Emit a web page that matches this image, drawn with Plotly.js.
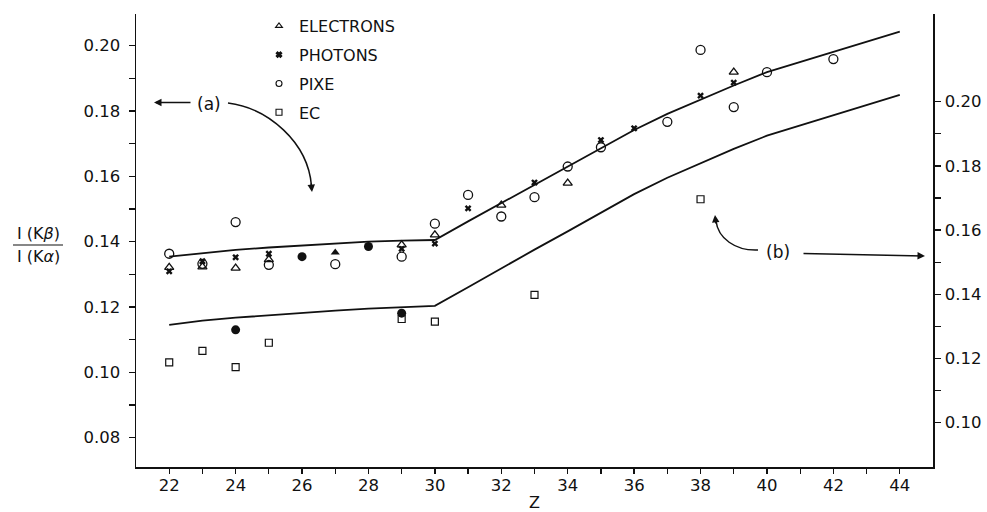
<!DOCTYPE html>
<html>
<head>
<meta charset="utf-8">
<script src="https://cdn.plot.ly/plotly-3.0.1.min.js"></script>
<style>html,body{margin:0;padding:0;background:#fff;}#chart{width:987px;height:512px;}</style>
</head>
<body>
<div id="chart"></div>
<script>
// ---- Data (Z = atomic number) ----
// Curve (a), left scale
const curveAZ = [22,23,24,25,26,27,28,29,30,31,32,33,34,35,36,37,38,39,40,41,42,43,44];
const curveAVal = [0.1354,0.1365,0.1375,0.1382,0.1388,0.1394,0.1400,0.1403,0.1405,0.1462,0.1518,0.1575,0.1630,0.1687,0.1742,0.1791,0.1835,0.1878,0.1919,0.1950,0.1982,0.2012,0.2043];
// Curve (b), right scale
const curveBZ = [22,23,24,25,26,27,28,29,30,31,32,33,34,35,36,37,38,39,40,41,42,43,44];
const curveBVal = [0.1305,0.1318,0.1327,0.1335,0.1342,0.1349,0.1355,0.1359,0.1364,0.1422,0.1481,0.1539,0.1596,0.1655,0.1712,0.1763,0.1809,0.1853,0.1894,0.1926,0.1959,0.1989,0.2021];

const electronsZ = [22,23,24,25,29,30,32,34,39];
const electronsVal = [0.1321,0.1323,0.1319,0.1345,0.1390,0.1421,0.1512,0.1579,0.1919];

const photonsZ = [22,23,24,25,29,30,31,33,35,36,38,39];
const photonsVal = [0.1309,0.1340,0.1352,0.1363,0.1378,0.1394,0.1502,0.1581,0.1711,0.1747,0.1847,0.1887];

const pixeZ = [22,23,24,25,27,29,30,31,32,33,34,35,37,38,39,40,42];
const pixeVal = [0.1363,0.1332,0.1460,0.1329,0.1331,0.1354,0.1455,0.1543,0.1477,0.1536,0.1630,0.1689,0.1767,0.1987,0.1812,0.1919,0.1959];

// EC, right scale
const ecZ = [22,23,24,25,29,30,33,38];
const ecVal = [0.1188,0.1224,0.1173,0.1249,0.1323,0.1315,0.1398,0.1696];

// Coincident (filled) points, left scale
const filledCircleZ = [24,26,28,29];
const filledCircleVal = [0.1130,0.1354,0.1385,0.1181];
const filledTriangleZ = [27];
const filledTriangleVal = [0.1367];

const seriesNames = ['ELECTRONS','PHOTONS','PIXE','EC'];
const xTickVals = [22,24,26,28,30,32,34,36,38,40,42,44];
const xMinorVals = [23,25,27,29,31,33,35,37,39,41,43];
const yLeftTicks = [0.08,0.10,0.12,0.14,0.16,0.18,0.20];
const yLeftMinor = [0.09,0.11,0.13,0.15,0.17,0.19];
const yRightTicks = [0.10,0.12,0.14,0.16,0.18,0.20];
const yRightMinor = [0.11,0.13,0.15,0.17,0.19];

// ---- Plot ----
const INK = '#111';
const FONT = 'DejaVu Sans, Liberation Sans, sans-serif';
const L = 136, R = 933, T = 14, B = 467;           // plot area in pixels
const px = v => (v - L) / (R - L);                   // pixel -> paper x
const py = v => (B - v) / (B - T);                   // pixel -> paper y

const traces = [
  {x: curveAZ, y: curveAVal, mode: 'lines', line: {color: INK, width: 1.8}, showlegend: false, hoverinfo: 'skip'},
  {x: curveBZ, y: curveBVal, yaxis: 'y2', mode: 'lines', line: {color: INK, width: 1.8}, showlegend: false, hoverinfo: 'skip'},
  {x: electronsZ, y: electronsVal, mode: 'markers', showlegend: false,
   marker: {symbol: 'triangle-up-open', size: 8, color: INK, line: {width: 1.3, color: INK}}},
  {x: photonsZ, y: photonsVal, mode: 'markers', showlegend: false,
   marker: {symbol: 'x', size: 6, color: INK, line: {width: 0}}},
  {x: pixeZ, y: pixeVal, mode: 'markers', showlegend: false,
   marker: {symbol: 'circle-open', size: 9, color: INK, line: {width: 1.3, color: INK}}},
  {x: ecZ, y: ecVal, yaxis: 'y2', mode: 'markers', showlegend: false,
   marker: {symbol: 'square-open', size: 7, color: INK, line: {width: 1.2, color: INK}}},
  {x: filledCircleZ, y: filledCircleVal, mode: 'markers', showlegend: false,
   marker: {symbol: 'circle', size: 9, color: INK}},
  {x: filledTriangleZ, y: filledTriangleVal, mode: 'markers', showlegend: false,
   marker: {symbol: 'triangle-up', size: 8, color: INK}},
];
// legend-only entries (small key symbols, as in the original)
const legendSymbols = ['triangle-up-open','x','circle-open','square-open'];
const legendSizes = [6,5,6,6];
seriesNames.forEach((n, i) => {
  traces.push({x: [null], y: [null], mode: 'markers', name: n, legendgroup: 'g' + i,
    marker: {symbol: legendSymbols[i], size: legendSizes[i], color: INK, line: {width: 1.1, color: INK}}});
});

const shapes = [
  // fraction bar of the y-axis title
  {type: 'line', xref: 'paper', yref: 'paper', x0: px(13), x1: px(63), y0: py(245), y1: py(245),
   line: {color: INK, width: 1.2}},
  // curved arrow body from (a)
  {type: 'path', xref: 'paper', yref: 'paper',
   path: `M ${px(228)},${py(103)} C ${px(268)},${py(108)} ${px(308)},${py(142)} ${px(311.5)},${py(186)}`,
   line: {color: INK, width: 1.5}},
  // curved arrow body from (b)
  {type: 'path', xref: 'paper', yref: 'paper',
   path: `M ${px(758)},${py(250)} C ${px(735)},${py(251)} ${px(718)},${py(238)} ${px(716)},${py(221)}`,
   line: {color: INK, width: 1.5}},
];

const txt = (x, y, text, size) => ({xref: 'paper', yref: 'paper', x: px(x), y: py(y), text: text,
  showarrow: false, xanchor: 'center', yanchor: 'middle', font: {family: FONT, size: size, color: INK}});
const annotations = [
  txt(38, 233.5, 'I (K<i>β</i>)', 16),
  txt(38, 256, 'I (K<i>α</i>)', 16),
  txt(209, 104, '(a)', 17),
  txt(778, 252, '(b)', 17),
  txt(534.5, 502, 'Z', 16),
  // straight arrows
  {xref: 'paper', yref: 'paper', x: px(154), y: py(102.5), ax: 38, ay: 0, text: '', showarrow: true,
   arrowhead: 2, arrowsize: 1, arrowwidth: 1.5, arrowcolor: INK},
  {xref: 'paper', yref: 'paper', x: px(925), y: py(256), ax: -123, ay: -2.5, text: '', showarrow: true,
   arrowhead: 2, arrowsize: 1, arrowwidth: 1.5, arrowcolor: INK},
  // heads of the curved arrows
  {xref: 'paper', yref: 'paper', x: px(312), y: py(192), ax: -1, ay: -10, text: '', showarrow: true,
   arrowhead: 2, arrowsize: 1, arrowwidth: 1.5, arrowcolor: INK},
  {xref: 'paper', yref: 'paper', x: px(715), y: py(215), ax: 1, ay: 10, text: '', showarrow: true,
   arrowhead: 2, arrowsize: 1, arrowwidth: 1.5, arrowcolor: INK},
];

const tickFont = {family: FONT, size: 16.5, color: INK};
const layout = {
  width: 987, height: 512,
  margin: {l: L, r: 987 - R, t: T, b: 512 - B, pad: 0, autoexpand: false},
  paper_bgcolor: '#fff', plot_bgcolor: '#fff',
  showlegend: true,
  legend: {x: px(259), y: py(9), xanchor: 'left', yanchor: 'top', traceorder: 'grouped',
    tracegroupgap: 5, font: {family: FONT, size: 16, color: INK}, bgcolor: 'rgba(0,0,0,0)', borderwidth: 0},
  xaxis: {range: [21, 45], showgrid: false, zeroline: false, showline: true, linecolor: INK, linewidth: 1.5,
    tickmode: 'array', tickvals: xTickVals, ticks: 'outside', ticklen: 5, tickwidth: 1.3, tickcolor: INK,
    minor: {tickmode: 'array', tickvals: xMinorVals, ticks: 'outside', ticklen: 5, tickwidth: 1.3, tickcolor: INK, showgrid: false},
    tickfont: tickFont, ticklabelstandoff: -2},
  yaxis: {range: [0.0710, 0.2097], showgrid: false, zeroline: false, showline: true, linecolor: INK, linewidth: 1.5,
    tickmode: 'array', tickvals: yLeftTicks, tickformat: '.2f', ticks: 'outside', ticklen: 6, tickwidth: 1.3, tickcolor: INK,
    minor: {tickmode: 'array', tickvals: yLeftMinor, ticks: 'outside', ticklen: 6, tickwidth: 1.3, tickcolor: INK, showgrid: false},
    tickfont: tickFont, ticklabelstandoff: 5},
  yaxis2: {range: [0.0862, 0.2273], overlaying: 'y', side: 'right', anchor: 'x', showgrid: false, zeroline: false,
    showline: true, linecolor: INK, linewidth: 1.5,
    tickmode: 'array', tickvals: yRightTicks, tickformat: '.2f', ticks: 'outside', ticklen: 6, tickwidth: 1.3, tickcolor: INK,
    minor: {tickmode: 'array', tickvals: yRightMinor, ticks: 'outside', ticklen: 6, tickwidth: 1.3, tickcolor: INK, showgrid: false},
    tickfont: tickFont, ticklabelstandoff: 1},
  shapes: shapes,
  annotations: annotations,
};

Plotly.newPlot('chart', traces, layout, {staticPlot: true, displayModeBar: false});
</script>
</body>
</html>
